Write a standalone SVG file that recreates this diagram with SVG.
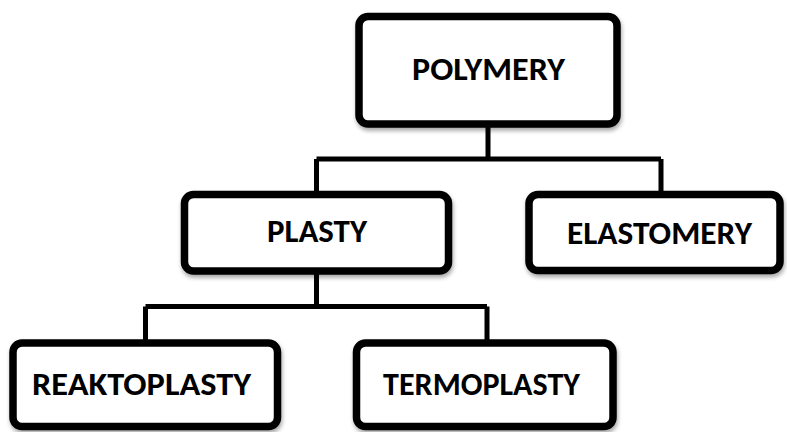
<svg xmlns="http://www.w3.org/2000/svg" width="787" height="432" viewBox="0 0 787 432">
  <defs>
    <filter id="shadow" x="-10%" y="-20%" width="120%" height="150%">
      <feDropShadow dx="1" dy="3" stdDeviation="2" flood-color="#000" flood-opacity="0.35"/>
    </filter>
  </defs>
  <style>
    .box { fill: #fff; stroke: #000; stroke-width: 7.5; filter: url(#shadow); }
    .label { font-family: Calibri, Carlito, "Liberation Sans", Arial, sans-serif; font-weight: bold; font-size: 33px; fill: #000; }
    .link { fill: none; stroke: #000; stroke-width: 5; }
  </style>
  <rect width="787" height="432" fill="#fff"/>

  <!-- tree connectors -->
  <g id="connectors">
    <path class="link" d="M488 124 V159 M316.5 159 H661 M316.5 159 V194.5 M661 159 V194.5"/>
    <path class="link" d="M316.5 271 V306.5 M145.5 306.5 H487 M145.5 306.5 V343 M487 306.5 V343"/>
  </g>

  <g id="polymery">
    <rect class="box" x="359" y="16.5" width="258" height="107.5" rx="9"/>
    <text class="label" x="412" y="80" textLength="153" lengthAdjust="spacingAndGlyphs">POLYMERY</text>
  </g>

  <g id="plasty">
    <rect class="box" x="184.5" y="194.5" width="264" height="76.5" rx="9"/>
    <text class="label" x="267" y="241.5" textLength="100" lengthAdjust="spacingAndGlyphs">PLASTY</text>
  </g>

  <g id="elastomery">
    <rect class="box" x="529" y="194.5" width="251" height="76" rx="9"/>
    <text class="label" x="567" y="244" textLength="185" lengthAdjust="spacingAndGlyphs">ELASTOMERY</text>
  </g>

  <g id="reaktoplasty">
    <rect class="box" x="13" y="343" width="264.5" height="83.5" rx="9"/>
    <text class="label" x="32" y="394.5" textLength="219" lengthAdjust="spacingAndGlyphs">REAKTOPLASTY</text>
  </g>

  <g id="termoplasty">
    <rect class="box" x="356.5" y="343" width="256.5" height="83.5" rx="9"/>
    <text class="label" x="383" y="394.5" textLength="197" lengthAdjust="spacingAndGlyphs">TERMOPLASTY</text>
  </g>
</svg>
